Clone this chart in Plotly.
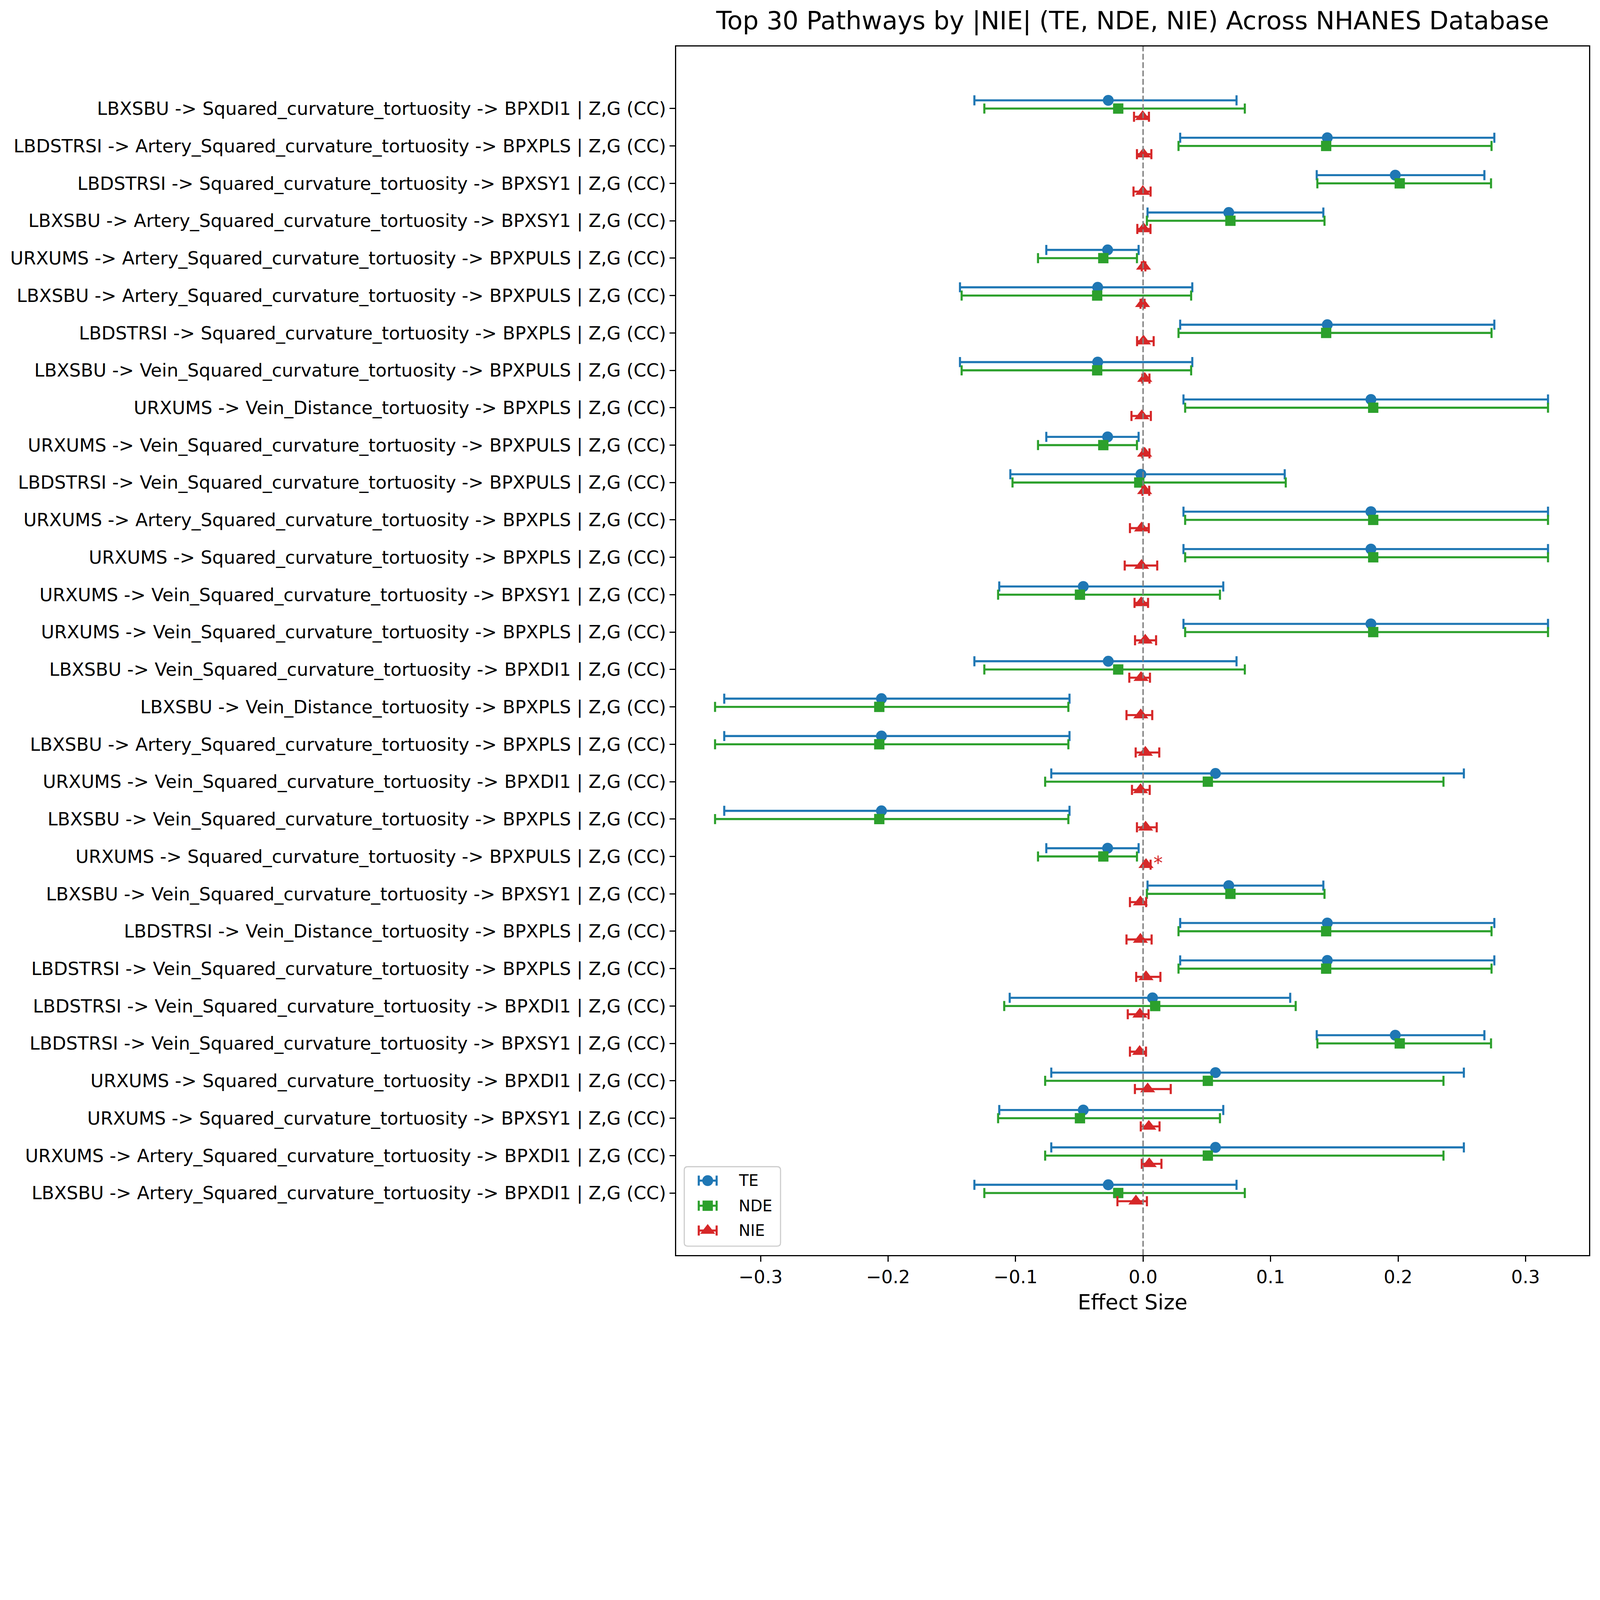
import plotly.graph_objects as go

# pathways listed top -> bottom as they appear in the chart
pathways = [
    "LBXSBU -> Squared_curvature_tortuosity -> BPXDI1 | Z,G (CC)",
    "LBDSTRSI -> Artery_Squared_curvature_tortuosity -> BPXPLS | Z,G (CC)",
    "LBDSTRSI -> Squared_curvature_tortuosity -> BPXSY1 | Z,G (CC)",
    "LBXSBU -> Artery_Squared_curvature_tortuosity -> BPXSY1 | Z,G (CC)",
    "URXUMS -> Artery_Squared_curvature_tortuosity -> BPXPULS | Z,G (CC)",
    "LBXSBU -> Artery_Squared_curvature_tortuosity -> BPXPULS | Z,G (CC)",
    "LBDSTRSI -> Squared_curvature_tortuosity -> BPXPLS | Z,G (CC)",
    "LBXSBU -> Vein_Squared_curvature_tortuosity -> BPXPULS | Z,G (CC)",
    "URXUMS -> Vein_Distance_tortuosity -> BPXPLS | Z,G (CC)",
    "URXUMS -> Vein_Squared_curvature_tortuosity -> BPXPULS | Z,G (CC)",
    "LBDSTRSI -> Vein_Squared_curvature_tortuosity -> BPXPULS | Z,G (CC)",
    "URXUMS -> Artery_Squared_curvature_tortuosity -> BPXPLS | Z,G (CC)",
    "URXUMS -> Squared_curvature_tortuosity -> BPXPLS | Z,G (CC)",
    "URXUMS -> Vein_Squared_curvature_tortuosity -> BPXSY1 | Z,G (CC)",
    "URXUMS -> Vein_Squared_curvature_tortuosity -> BPXPLS | Z,G (CC)",
    "LBXSBU -> Vein_Squared_curvature_tortuosity -> BPXDI1 | Z,G (CC)",
    "LBXSBU -> Vein_Distance_tortuosity -> BPXPLS | Z,G (CC)",
    "LBXSBU -> Artery_Squared_curvature_tortuosity -> BPXPLS | Z,G (CC)",
    "URXUMS -> Vein_Squared_curvature_tortuosity -> BPXDI1 | Z,G (CC)",
    "LBXSBU -> Vein_Squared_curvature_tortuosity -> BPXPLS | Z,G (CC)",
    "URXUMS -> Squared_curvature_tortuosity -> BPXPULS | Z,G (CC)",
    "LBXSBU -> Vein_Squared_curvature_tortuosity -> BPXSY1 | Z,G (CC)",
    "LBDSTRSI -> Vein_Distance_tortuosity -> BPXPLS | Z,G (CC)",
    "LBDSTRSI -> Vein_Squared_curvature_tortuosity -> BPXPLS | Z,G (CC)",
    "LBDSTRSI -> Vein_Squared_curvature_tortuosity -> BPXDI1 | Z,G (CC)",
    "LBDSTRSI -> Vein_Squared_curvature_tortuosity -> BPXSY1 | Z,G (CC)",
    "URXUMS -> Squared_curvature_tortuosity -> BPXDI1 | Z,G (CC)",
    "URXUMS -> Squared_curvature_tortuosity -> BPXSY1 | Z,G (CC)",
    "URXUMS -> Artery_Squared_curvature_tortuosity -> BPXDI1 | Z,G (CC)",
    "LBXSBU -> Artery_Squared_curvature_tortuosity -> BPXDI1 | Z,G (CC)",
]

te = [-0.0273, 0.1445, 0.1978, 0.0672, -0.0278, -0.0356, 0.1445, -0.0356, 0.1787, -0.0278,
      -0.0017, 0.1787, 0.1787, -0.0469, 0.1787, -0.0273, -0.2052, -0.2052, 0.0568, -0.2052,
      -0.0278, 0.0672, 0.1445, 0.1445, 0.0074, 0.1978, 0.0568, -0.0469, 0.0568, -0.0273]
te_lo = [-0.1323, 0.0291, 0.1362, 0.0035, -0.0759, -0.1436, 0.0291, -0.1436, 0.0317, -0.0759,
         -0.1041, 0.0317, 0.0317, -0.1128, 0.0317, -0.1323, -0.3285, -0.3285, -0.0720, -0.3285,
         -0.0759, 0.0035, 0.0291, 0.0291, -0.1046, 0.1362, -0.0720, -0.1128, -0.0720, -0.1323]
te_hi = [0.0733, 0.2755, 0.2677, 0.1414, -0.0035, 0.0386, 0.2755, 0.0386, 0.3176, -0.0035,
         0.1111, 0.3176, 0.3176, 0.0629, 0.3176, 0.0733, -0.0577, -0.0577, 0.2516, -0.0577,
         -0.0035, 0.1414, 0.2755, 0.2755, 0.1154, 0.2677, 0.2516, 0.0629, 0.2516, 0.0733]

nde = [-0.0195, 0.1436, 0.2013, 0.0685, -0.0312, -0.0360, 0.1436, -0.0360, 0.1805, -0.0312,
       -0.0030, 0.1805, 0.1805, -0.0495, 0.1805, -0.0195, -0.2069, -0.2069, 0.0508, -0.2069,
       -0.0312, 0.0685, 0.1436, 0.1436, 0.0095, 0.2013, 0.0508, -0.0495, 0.0508, -0.0195]
nde_lo = [-0.1245, 0.0278, 0.1367, 0.0030, -0.0824, -0.1423, 0.0278, -0.1423, 0.0330, -0.0824,
          -0.1024, 0.0330, 0.0330, -0.1137, 0.0330, -0.1245, -0.3357, -0.3357, -0.0768, -0.3357,
          -0.0824, 0.0030, 0.0278, 0.0278, -0.1089, 0.1367, -0.0768, -0.1137, -0.0768, -0.1245]
nde_hi = [0.0798, 0.2733, 0.2729, 0.1423, -0.0048, 0.0377, 0.2733, 0.0377, 0.3176, -0.0048,
          0.1119, 0.3176, 0.3176, 0.0603, 0.3176, 0.0798, -0.0586, -0.0586, 0.2356, -0.0586,
          -0.0048, 0.1423, 0.2733, 0.2733, 0.1197, 0.2729, 0.2356, 0.0603, 0.2356, 0.0798]

nie = [-0.0003, 0.0002, -0.0002, 0.0004, 0.0004, -0.0004, 0.0003, 0.0013, -0.0010, 0.0012,
       0.0012, -0.0012, -0.0012, -0.0015, 0.0017, -0.0016, -0.0018, 0.0018, -0.0020, 0.0020,
       0.0023, -0.0021, -0.0021, 0.0023, -0.0025, -0.0027, 0.0036, 0.0045, 0.0048, -0.0056]
nie_lo = [-0.0071, -0.0048, -0.0075, -0.0045, -0.0010, -0.0020, -0.0047, -0.0005, -0.0091, -0.0005,
          -0.0005, -0.0103, -0.0144, -0.0067, -0.0063, -0.0108, -0.0130, -0.0058, -0.0087, -0.0048,
          0.0001, -0.0103, -0.0130, -0.0054, -0.0120, -0.0103, -0.0064, -0.0018, -0.0010, -0.0201]
nie_hi = [0.0046, 0.0065, 0.0059, 0.0058, 0.0018, 0.0012, 0.0083, 0.0050, 0.0061, 0.0050,
          0.0048, 0.0045, 0.0111, 0.0039, 0.0102, 0.0054, 0.0072, 0.0127, 0.0052, 0.0107,
          0.0059, 0.0024, 0.0067, 0.0136, 0.0043, 0.0023, 0.0217, 0.0129, 0.0144, 0.0030]

# significant NIE (CI excludes zero)
sig_rows = [20]

C_TE, C_NDE, C_NIE = "#1f77b4", "#2ca02c", "#d62728"
FONT = "DejaVu Sans"

# the page is shown with a device pixel ratio of ~1.4, so sizes below are
# measured in screenshot pixels and divided by K
K = 1.4
SW, SH = 5721, 4722
W, H = int(SW / K), int(SH / K)


def px(v):
    return v / K


n = len(pathways)
ypos = [n - 1 - i for i in range(n)]
off = 0.22

LW = px(7.5)
CAP = px(18)
SIZES = {"TE": 39, "NDE": 37, "NIE": 47}


def err(v, lo, hi, color):
    return dict(type="data", symmetric=False,
                array=[h - x for x, h in zip(v, hi)],
                arrayminus=[x - l for x, l in zip(v, lo)],
                color=color, thickness=LW, width=CAP)


fig = go.Figure()

fig.add_trace(go.Scatter(x=te, y=[y + off for y in ypos], mode="markers", name="TE",
                         marker=dict(symbol="circle", size=px(SIZES["TE"]), color=C_TE),
                         error_x=err(te, te_lo, te_hi, C_TE)))
fig.add_trace(go.Scatter(x=nde, y=ypos, mode="markers", name="NDE",
                         marker=dict(symbol="square", size=px(SIZES["NDE"]), color=C_NDE),
                         error_x=err(nde, nde_lo, nde_hi, C_NDE)))
fig.add_trace(go.Scatter(x=nie, y=[y - off for y in ypos], mode="markers", name="NIE",
                         marker=dict(symbol="triangle-up", size=px(SIZES["NIE"]), color=C_NIE),
                         error_x=err(nie, nie_lo, nie_hi, C_NIE)))

for i in sig_rows:
    fig.add_annotation(x=nie_hi[i], y=ypos[i] - off, xref="x", yref="y", text="*",
                       showarrow=False, xanchor="left", xshift=px(8), yshift=px(6),
                       font=dict(family=FONT, size=px(66), color=C_NIE))

# plot area edges in screenshot pixels
L, R, T, B = 2424, 5696, 166, 4500

# hand-drawn legend on an overlay axis measured in screenshot pixels
legend_names = ["TE", "NDE", "NIE"]
legend_colors = [C_TE, C_NDE, C_NIE]
legend_symbols = ["circle", "square", "triangle-up"]
legend_y = [4233, 4323, 4412]

bx0, bx1, by0, by1, rr = 2453, 2798, 4183, 4468, 12
fig.add_shape(type="path", xref="x2", yref="y2", layer="below",
              path=(f"M{bx0 + rr},{by0} L{bx1 - rr},{by0} Q{bx1},{by0} {bx1},{by0 + rr} "
                    f"L{bx1},{by1 - rr} Q{bx1},{by1} {bx1 - rr},{by1} L{bx0 + rr},{by1} "
                    f"Q{bx0},{by1} {bx0},{by1 - rr} L{bx0},{by0 + rr} Q{bx0},{by0} {bx0 + rr},{by0} Z"),
              fillcolor="rgba(255,255,255,0.8)", line=dict(color="#cccccc", width=px(4)))

for name, col, sym, ly in zip(legend_names, legend_colors, legend_symbols, legend_y):
    fig.add_trace(go.Scatter(x=[2537], y=[ly], xaxis="x2", yaxis="y2", mode="markers",
                             marker=dict(symbol=sym, size=px(SIZES[name]), color=col),
                             error_x=dict(type="constant", value=32, color=col, thickness=LW, width=CAP),
                             showlegend=False, hoverinfo="skip"))
    fig.add_annotation(x=2645, y=ly, xref="x2", yref="y2", text=name, showarrow=False,
                       xanchor="left", yanchor="middle", font=dict(family=FONT, size=px(56), color="black"))

fig.add_shape(type="line", x0=0, x1=0, y0=0, y1=1, xref="x", yref="paper", layer="above",
              line=dict(color="#808080", width=px(5), dash=f"{px(21):.1f}px,{px(9):.1f}px"))

fig.update_layout(
    template="none",
    width=W, height=H,
    margin=dict(l=px(L), r=px(SW - R), t=px(T), b=px(SH - B), pad=0),
    paper_bgcolor="white", plot_bgcolor="white",
    showlegend=False,
    hovermode=False,
    font=dict(family=FONT, size=px(65), color="black"),
    title=dict(text="Top 30 Pathways by |NIE| (TE, NDE, NIE) Across NHANES Database",
               x=0.5, xref="paper", xanchor="center",
               y=1 - 73 / SH, yref="container", yanchor="middle",
               font=dict(family=FONT, size=px(90), color="black")),
    xaxis=dict(range=[-0.3662, 0.3498], dtick=0.1, tick0=0, tickformat=".1f",
               showgrid=False, zeroline=False, automargin=False,
               showline=True, mirror=True, linecolor="black", linewidth=px(4.5),
               ticks="outside", ticklen=px(19), tickwidth=px(4.5), tickcolor="black",
               tickfont=dict(family=FONT, size=px(65)),
               title=dict(text="Effect Size", standoff=px(28), font=dict(family=FONT, size=px(75)))),
    yaxis=dict(range=[-1.66, n - 1 + 1.66], tickvals=ypos, ticktext=pathways,
               showgrid=False, zeroline=False, automargin=False,
               showline=True, mirror=True, linecolor="black", linewidth=px(4.5),
               ticks="outside", ticklen=px(19), tickwidth=px(4.5), tickcolor="black",
               tickfont=dict(family=FONT, size=px(65))),
    xaxis2=dict(range=[L, R], overlaying="x", anchor="y2", visible=False, fixedrange=True),
    yaxis2=dict(range=[B, T], overlaying="y", anchor="x2", visible=False, fixedrange=True),
)

fig.write_html("out.html", config={"displayModeBar": False},
               post_script="document.body.style.margin='0';document.body.style.overflow='hidden';")
